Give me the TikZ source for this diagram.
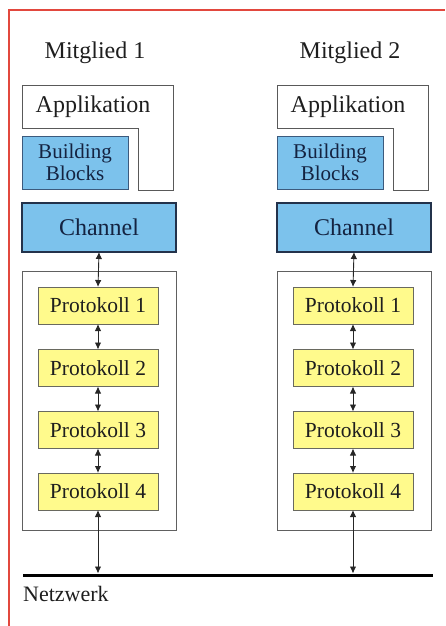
\documentclass[tikz,border=0pt]{standalone}
\usepackage{fontspec}
\setmainfont{Liberation Serif}
\newfontfamily\timesfam{Liberation Serif}
\usetikzlibrary{arrows.meta}
\definecolor{frame}{RGB}{226,72,62}
\definecolor{bbfill}{RGB}{124,194,236}
\definecolor{bbdraw}{RGB}{60,90,125}
\definecolor{chdraw}{RGB}{35,50,75}
\definecolor{prfill}{RGB}{255,250,140}
\definecolor{prdraw}{RGB}{105,105,95}
\definecolor{txt}{RGB}{30,30,30}
\definecolor{btxt}{RGB}{20,35,65}
\tikzset{
  box/.style={rectangle, inner sep=0pt, outer sep=0pt},
  bbbox/.style={box, fill=bbfill, draw=bbdraw, line width=1pt, minimum width=106pt, minimum height=53pt, text=btxt, align=center, font=\timesfam\fontsize{21}{22.5}\selectfont},
  chbox/.style={box, fill=bbfill, draw=chdraw, line width=1.1pt, minimum width=154pt, minimum height=49pt, text=btxt, font=\timesfam\fontsize{24}{28}\selectfont},
  stackbox/.style={box, draw=gray!75!black, line width=1pt, minimum width=154pt, minimum height=259pt},
  prbox/.style={box, fill=prfill, draw=prdraw, line width=1pt, minimum width=120pt, minimum height=37pt, text=txt, font=\timesfam\fontsize{21.5}{24}\selectfont},
  applshape/.style={draw=gray!70!black, line width=1pt},
  lbl/.style={text=txt, font=\timesfam\fontsize{24}{28}\selectfont, inner sep=0pt},
  arr/.style={{Latex[length=7pt,width=6.5pt]}-{Latex[length=7pt,width=6.5pt]}, line width=0.9pt, black!85},
}
\begin{document}
\begin{tikzpicture}[x=1pt,y=-1pt]
\useasboundingbox (0,0) rectangle (445,626);
\draw[frame, line width=1.5pt] (9,626) -- (9,10) -- (445,10);

\foreach \i/\dx in {1/0,2/255}{
  \begin{scope}[xshift=\dx pt]
  \node[lbl] (m\i) at (95,53) {Mitglied \i};
  \draw[applshape] (22,85) -- (173,85) -- (173,190) -- (138,190) -- (138,128) -- (22,128) -- cycle;
  \node[lbl] (app\i) at (93,107) {Applikation};
  \node[bbbox] (bb\i) at (75,162.5) {Building\\Blocks};
  \node[chbox] (ch\i) at (99,227.5) {Channel};
  \node[stackbox] (st\i) at (99,400.5) {};
  \node[prbox] (p\i a) at (98,305.5) {Protokoll 1};
  \node[prbox] (p\i b) at (98,368) {Protokoll 2};
  \node[prbox] (p\i c) at (98,430) {Protokoll 3};
  \node[prbox] (p\i d) at (98,491.5) {Protokoll 4};
  \coordinate (n\i) at (98,573.5);
  \draw[arr] (ch\i.south) -- (p\i a.north);
  \draw[arr] (p\i a.south) -- (p\i b.north);
  \draw[arr] (p\i b.south) -- (p\i c.north);
  \draw[arr] (p\i c.south) -- (p\i d.north);
  \draw[arr] (p\i d.south) -- (n\i);
  \end{scope}
}
\coordinate (netL) at (23,575);
\coordinate (netR) at (433,575);
\draw[line width=3pt, black] (netL) -- (netR);
\node[lbl, anchor=west, font=\timesfam\fontsize{22}{26}\selectfont] (net) at (23,594) {Netzwerk};
\end{tikzpicture}
\end{document}
